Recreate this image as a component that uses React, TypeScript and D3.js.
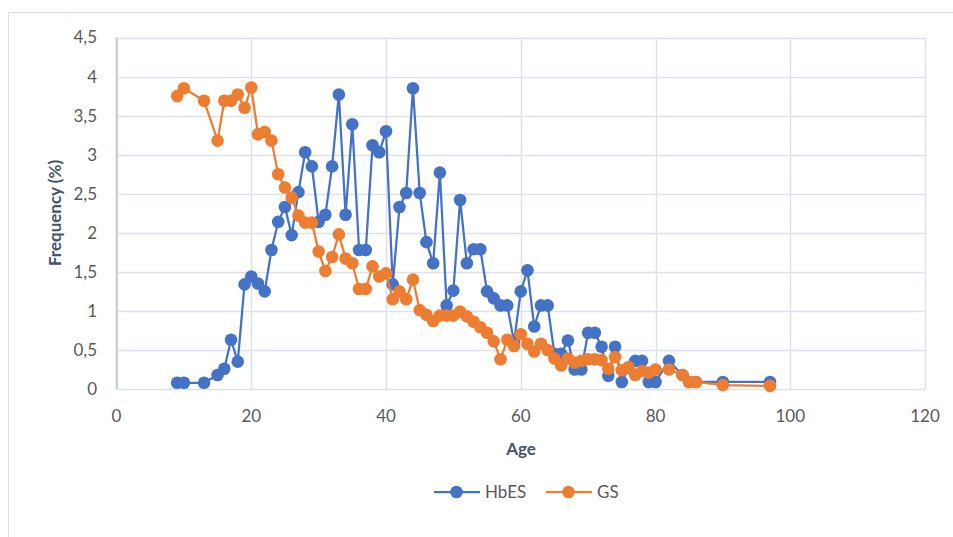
import React from "react";
import * as d3 from "d3";

const ages = [9,10,13,15,16,17,18,19,20,21,22,23,24,25,26,27,28,29,30,31,32,33,34,35,36,37,38,39,40,41,42,43,44,45,46,47,48,49,50,51,52,53,54,55,56,57,58,59,60,61,62,63,64,65,66,67,68,69,70,71,72,73,74,75,76,77,78,79,80,82,84,85,86,90,97];

const hbes = [0.08,0.08,0.08,0.18,0.26,0.63,0.35,1.34,1.44,1.35,1.25,1.78,2.14,2.33,1.97,2.52,3.03,2.85,2.14,2.23,2.85,3.77,2.23,3.39,1.78,1.78,3.12,3.03,3.30,1.34,2.33,2.51,3.85,2.51,1.88,1.61,2.77,1.07,1.26,2.42,1.61,1.79,1.79,1.25,1.16,1.07,1.07,0.60,1.25,1.52,0.80,1.07,1.07,0.45,0.45,0.62,0.25,0.25,0.72,0.72,0.54,0.17,0.54,0.09,0.27,0.36,0.36,0.09,0.09,0.36,0.18,0.09,0.09,0.09,0.09];

const gs = [3.75,3.85,3.69,3.18,3.69,3.69,3.77,3.60,3.86,3.26,3.29,3.18,2.75,2.58,2.45,2.22,2.13,2.13,1.76,1.51,1.69,1.98,1.67,1.61,1.28,1.28,1.57,1.44,1.48,1.15,1.25,1.15,1.40,1.01,0.95,0.87,0.94,0.94,0.94,0.99,0.93,0.86,0.79,0.72,0.61,0.38,0.63,0.55,0.70,0.58,0.48,0.58,0.50,0.39,0.30,0.39,0.34,0.36,0.38,0.38,0.37,0.26,0.41,0.24,0.28,0.18,0.23,0.21,0.25,0.25,0.18,0.09,0.09,0.05,0.04];

const xTicks = [0, 20, 40, 60, 80, 100, 120];
const yTicks = [0, 0.5, 1, 1.5, 2, 2.5, 3, 3.5, 4, 4.5];

const seriesNames = ["HbES", "GS"];
const seriesColors = ["#4472C4", "#ED7D31"];

const W = 953;
const H = 537;
const FONT = "Lato, 'Open Sans', sans-serif";

export default function App() {
  const x = d3.scaleLinear().domain([0, 120]).range([116.5, 925]);
  const y = d3.scaleLinear().domain([0, 4.5]).range([389, 37.5]);
  const fmt = (v: number) => String(v).replace(".", ",");

  const series = [hbes, gs].map((vals, i) => ({
    name: seriesNames[i],
    color: seriesColors[i],
    pts: ages.map((a, j) => [a, vals[j]] as [number, number]),
  }));

  const line = d3
    .line<[number, number]>()
    .x((d) => x(d[0]))
    .y((d) => y(d[1]));

  return (
    <svg
      width={W}
      height={H}
      style={{ position: "absolute", left: 0, top: 0, background: "#fff" }}
      fontFamily={FONT}
    >
      <rect x={0} y={0} width={W} height={H} fill="#fff" />
      {/* chart frame */}
      <line x1={8.5} y1={12.5} x2={W} y2={12.5} stroke="#d9dde3" strokeWidth={1} />
      <line x1={8.5} y1={12.5} x2={8.5} y2={H} stroke="#d9dde3" strokeWidth={1} />

      {/* gridlines */}
      {yTicks.map((t) => (
        <line
          key={"gy" + t}
          x1={x(0)}
          x2={x(120)}
          y1={Math.round(y(t)) + 0.5}
          y2={Math.round(y(t)) + 0.5}
          stroke="#dde2ea"
          strokeWidth={1.5}
        />
      ))}
      {xTicks.map((t) => (
        <line
          key={"gx" + t}
          x1={Math.round(x(t)) + 0.5}
          x2={Math.round(x(t)) + 0.5}
          y1={y(0)}
          y2={y(4.5)}
          stroke="#dde2ea"
          strokeWidth={1.5}
        />
      ))}
      {/* left axis line */}
      <line x1={x(0)} x2={x(0)} y1={y(0)} y2={y(4.5)} stroke="#b8c2d2" strokeWidth={1.5} />

      {/* tick labels */}
      {yTicks.map((t) => (
        <text
          key={"ty" + t}
          x={97}
          y={y(t)}
          dy="0.35em"
          textAnchor="end"
          fontSize={17}
          fill="#595959"
        >
          {fmt(t)}
        </text>
      ))}
      {xTicks.map((t) => (
        <text
          key={"tx" + t}
          x={x(t)}
          y={416}
          dy="0.35em"
          textAnchor="middle"
          fontSize={17}
          fill="#595959"
        >
          {t}
        </text>
      ))}

      {/* axis titles */}
      <text
        x={521}
        y={449}
        dy="0.35em"
        textAnchor="middle"
        fontSize={17}
        fontWeight="bold"
        fill="#44546a"
      >
        Age
      </text>
      <text
        transform={`translate(55,213) rotate(-90)`}
        dy="0.35em"
        textAnchor="middle"
        fontSize={17}
        fontWeight="bold"
        fill="#44546a"
      >
        Frequency (%)
      </text>

      {/* series */}
      {series.map((s) => (
        <g key={s.name}>
          <path d={line(s.pts) || ""} fill="none" stroke={s.color} strokeWidth={2.25} strokeLinejoin="round" />
          {s.pts.map((p, j) => (
            <circle key={j} cx={x(p[0])} cy={y(p[1])} r={6.3} fill={s.color} />
          ))}
        </g>
      ))}

      {/* legend */}
      {series.map((s, i) => {
        const x0 = i === 0 ? 434 : 546;
        const ly = 492;
        return (
          <g key={"lg" + s.name}>
            <line x1={x0} x2={x0 + 46} y1={ly} y2={ly} stroke={s.color} strokeWidth={2.25} />
            <circle cx={x0 + 22.5} cy={ly} r={6.3} fill={s.color} />
            <text x={x0 + 51} y={ly} dy="0.35em" fontSize={17} fill="#595959">
              {s.name}
            </text>
          </g>
        );
      })}
    </svg>
  );
}
